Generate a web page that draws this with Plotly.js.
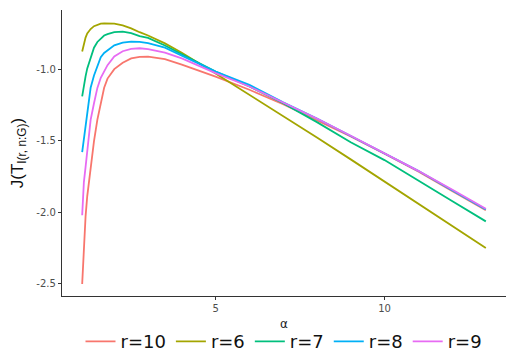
<!DOCTYPE html>
<html>
<head>
<meta charset="utf-8">
<script src="https://cdn.plot.ly/plotly-3.0.1.min.js"></script>
<style>
  html, body { margin: 0; padding: 0; background: #fff; }
  #chart { width: 521px; height: 360px; }
</style>
</head>
<body>
<div id="chart"></div>
<script>
// alpha grid shared by every curve
var alpha = [1.05, 1.1, 1.15, 1.2, 1.3, 1.4, 1.5, 1.6, 1.7, 1.8, 2.0, 2.25, 2.5, 2.75, 3.0, 3.5, 4, 5, 6, 7, 8, 9, 10, 11, 12, 13];

var r10 = [-2.50, -2.24, -2.03, -1.886, -1.674, -1.503, -1.352, -1.234, -1.13, -1.066, -1.00, -0.955, -0.925, -0.914, -0.913, -0.93, -0.968, -1.052, -1.144, -1.245, -1.355, -1.47, -1.59, -1.715, -1.85, -1.985];
var r6  = [-0.877, -0.82, -0.78, -0.75, -0.72, -0.70, -0.69, -0.682, -0.68, -0.679, -0.682, -0.695, -0.715, -0.742, -0.765, -0.82, -0.885, -1.03, -1.178, -1.328, -1.478, -1.63, -1.785, -1.94, -2.095, -2.248];
var r7  = [-1.19, -1.11, -1.05, -0.995, -0.92, -0.85, -0.81, -0.785, -0.765, -0.755, -0.742, -0.738, -0.748, -0.77, -0.782, -0.835, -0.895, -1.017, -1.121, -1.238, -1.37, -1.51, -1.635, -1.78, -1.92, -2.063];
var r8  = [-1.58, -1.49, -1.41, -1.324, -1.13, -1.044, -0.976, -0.917, -0.887, -0.869, -0.834, -0.815, -0.808, -0.81, -0.819, -0.85, -0.905, -1.017, -1.11, -1.232, -1.345, -1.465, -1.585, -1.71, -1.845, -1.98];
var r9  = [-2.02, -1.79, -1.684, -1.575, -1.354, -1.238, -1.131, -1.06, -1.01, -0.972, -0.912, -0.875, -0.858, -0.854, -0.86, -0.885, -0.925, -1.028, -1.121, -1.235, -1.345, -1.465, -1.585, -1.71, -1.84, -1.975];

var seriesNames = ["r=10", "r=6", "r=7", "r=8", "r=9"];
var seriesValues = [r10, r6, r7, r8, r9];
var seriesColors = ["#F8766D", "#A3A500", "#00BF7D", "#00B0F6", "#E76BF3"];

var xTickVals = [5, 10];
var xTickText = ["5", "10"];
var yTickVals = [-1.0, -1.5, -2.0, -2.5];
var yTickText = ["-1.0", "-1.5", "-2.0", "-2.5"];

var data = [];
for (var i = 0; i < seriesNames.length; i++) {
    data.push({
        x: alpha,
        y: seriesValues[i],
        name: seriesNames[i],
        type: 'scatter',
        mode: 'lines',
        line: { color: seriesColors[i], width: 1.8 }
    });
}

var axisCommon = {
    showgrid: false,
    zeroline: false,
    showline: true,
    linecolor: '#333333',
    linewidth: 1.2,
    ticks: 'outside',
    ticklen: 3,
    tickwidth: 1,
    tickcolor: '#333333',
    tickfont: { family: 'DejaVu Sans', size: 10, color: '#4D4D4D' }
};

var layout = {
    width: 521,
    height: 360,
    paper_bgcolor: '#ffffff',
    plot_bgcolor: '#ffffff',
    margin: { l: 62, r: 15, t: 10, b: 64, autoexpand: false },
    xaxis: Object.assign({}, axisCommon, {
        range: [0.4525, 13.5975],
        tickmode: 'array',
        tickvals: xTickVals,
        ticktext: xTickText,
        title: { text: 'α', font: { family: 'DejaVu Sans', size: 12, color: '#222' }, standoff: 6 }
    }),
    yaxis: Object.assign({}, axisCommon, {
        range: [-2.584, -0.587],
        tickmode: 'array',
        tickvals: yTickVals,
        ticktext: yTickText,
        title: { text: 'J(T<sub>I(r, n:G)</sub>)', font: { family: 'Liberation Sans', size: 17, color: '#111' }, standoff: 8 }
    }),
    showlegend: true,
    legend: {
        orientation: 'h',
        x: 0.5, xanchor: 'center',
        y: -0.16, yanchor: 'middle',
        font: { family: 'DejaVu Sans', size: 18, color: '#111' },
        itemwidth: 30,
        tracegroupgap: 0
    }
};

var config = { staticPlot: true, displayModeBar: false };

Plotly.newPlot('chart', data, layout, config);
</script>
</body>
</html>
